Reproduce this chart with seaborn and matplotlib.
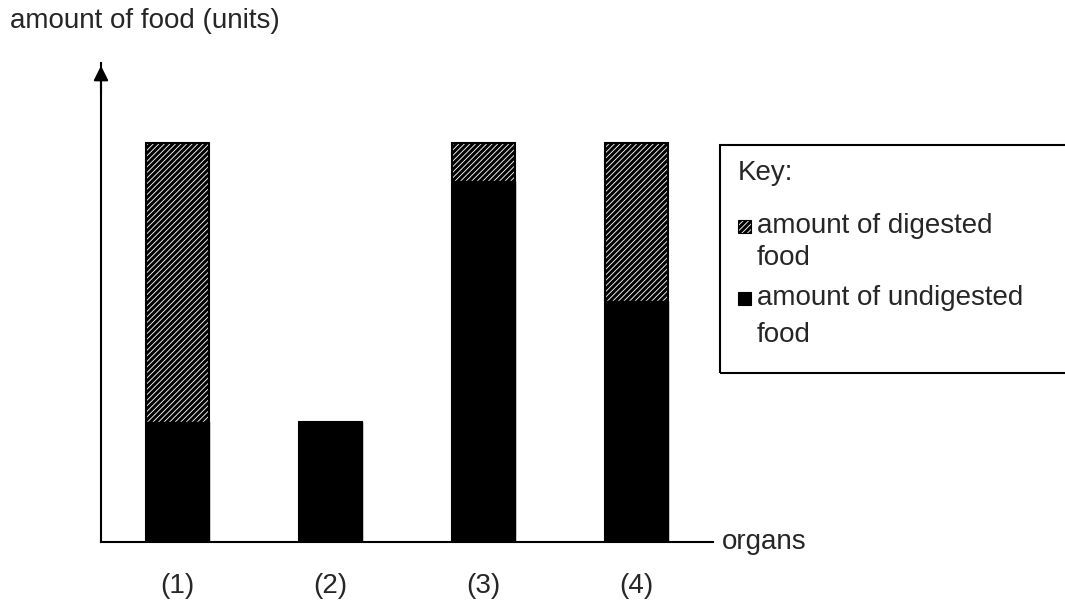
import matplotlib
matplotlib.use('Agg')
import matplotlib.pyplot as plt
from matplotlib.patches import Rectangle
import seaborn as sns

# Data (units, bar top = 10)
organs = ['(1)', '(2)', '(3)', '(4)']
undigested = [3.0, 3.0, 9.05, 6.05]
digested = [7.0, 0.0, 0.95, 3.95]
totals = [u + d for u, d in zip(undigested, digested)]

key_labels = ['amount of digested\nfood', 'amount of undigested\nfood']

W, H = 1065, 603

sns.set_style('white')
plt.rcParams['font.family'] = ['Liberation Sans', 'DejaVu Sans']
plt.rcParams['font.size'] = 20
plt.rcParams['hatch.linewidth'] = 2.2

HATCH = '//////'


def px(x, y):
    """Pixel position in the reference -> figure fraction."""
    return x / W, 1 - y / H


fig = plt.figure(figsize=(W / 100, H / 100), dpi=100)
ax = fig.add_axes([101 / W, 61 / H, (713 - 101) / W, (542 - 63) / H])

# stacked bars: hatched total first, undigested (black) drawn over it
sns.barplot(x=organs, y=totals, color='white', edgecolor='black', linewidth=1.5,
            hatch=HATCH, width=0.41, saturation=1, errorbar=None, ax=ax)
sns.barplot(x=organs, y=undigested, color='black', edgecolor='black', linewidth=1.0,
            width=0.41, saturation=1, errorbar=None, ax=ax)

ax.set_xlim(-0.5, 3.5)
ax.set_ylim(0, 12)
ax.set_xlabel('')
ax.set_ylabel('')
ax.set_yticks([])
ax.tick_params(axis='x', length=0, pad=22, labelsize=20)
sns.despine(ax=ax)
for s in ['left', 'bottom']:
    ax.spines[s].set_linewidth(1.5)
    ax.spines[s].set_color('black')

# arrow head on the y axis
ax.annotate('', xy=(0, 1), xytext=(0, 0.93), xycoords='axes fraction',
            arrowprops=dict(arrowstyle='-|>', color='black', lw=1.5, mutation_scale=22),
            annotation_clip=False)

ax.text(1.015, 0, 'organs', transform=ax.transAxes, va='center', ha='left', fontsize=20)
fig.text(*px(10, 28), 'amount of food (units)', va='baseline', ha='left', fontsize=20)

# key box
x0, y0 = px(720, 373)
x1, y1 = px(1075, 145)
fig.add_artist(Rectangle((x0, y0), x1 - x0, y1 - y0, transform=fig.transFigure,
                         fill=False, edgecolor='black', linewidth=1.5, clip_on=False))
fig.text(*px(738, 180), 'Key:', va='baseline', ha='left', fontsize=20)

handle_styles = [dict(facecolor='white', edgecolor='black', hatch=HATCH, linewidth=0.8),
                 dict(facecolor='black', edgecolor='black', linewidth=0.8)]
line_baselines = [(233, 265), (305, 342)]
for label, style, bases in zip(key_labels, handle_styles, line_baselines):
    first = bases[0]
    hx, hy = px(738, first)
    fig.add_artist(Rectangle((hx, hy), 13 / W, 13 / H, transform=fig.transFigure,
                             clip_on=False, **style))
    for line, b in zip(label.split('\n'), bases):
        fig.text(*px(757, b), line, va='baseline', ha='left', fontsize=20)

fig.savefig('out.png', dpi=100, facecolor='white')
